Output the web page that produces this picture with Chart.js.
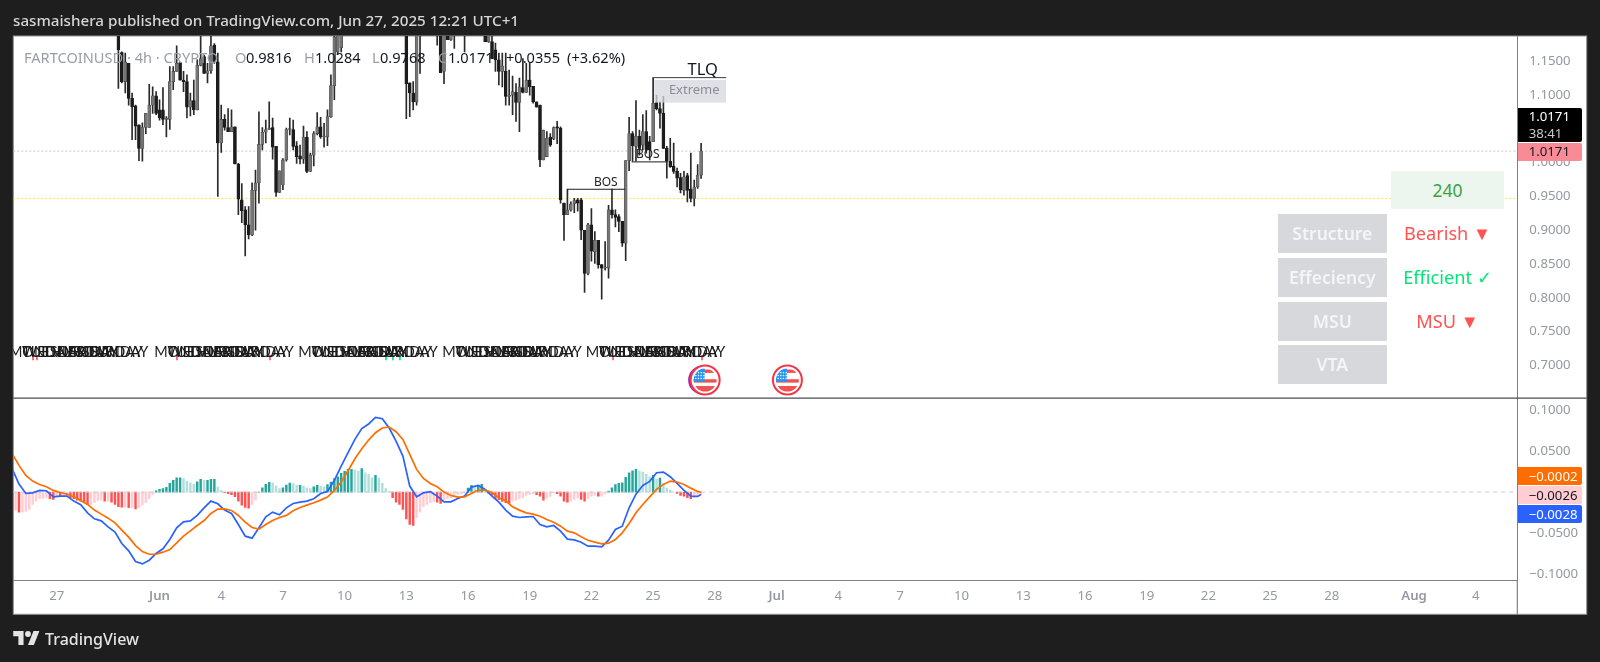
<!DOCTYPE html>
<html>
<head>
<meta charset="utf-8">
<title>FARTCOINUSD 4h</title>
<script src="https://cdn.jsdelivr.net/npm/chart.js@4/dist/chart.umd.min.js"></script>
<style>
  html, body { margin: 0; padding: 0; width: 1600px; height: 662px; overflow: hidden; background: #1e1e1e; font-family: "Noto Sans", sans-serif; }
  #chart { position: absolute; left: 0; top: 0; }
  .abs { position: absolute; white-space: nowrap; }
  #header { left: 13px; top: 10px; color: #d6d6d6; font-size: 15.2px; font-weight: 500; line-height: 21px; }
  #footer { left: 45px; top: 628px; color: #e4e4e4; font-size: 16px; font-weight: 500; line-height: 23px; }
  #logo { left: 13px; top: 631px; }
  .lg { top: 47px; font-size: 14.6px; line-height: 20px; color: #131722; }
  .lg.dim { color: #9a9da6; }
  .cell { position: absolute; left: 1278px; width: 108.7px; height: 38.7px; line-height: 38.7px; background: #d6d8db; color: #f4f5f6; text-align: center; font-size: 17.5px; font-weight: 600; }
  .val { position: absolute; left: 1391px; width: 113px; height: 38.7px; line-height: 38.7px; text-align: center; font-size: 18.2px; }
  .tag { position: absolute; left: 1517.7px; width: 64.3px; text-align: left; padding-left: 11px; box-sizing: border-box; font-size: 13.2px; border-radius: 0 2px 2px 0; }
</style>
</head>
<body>
<canvas id="chart" width="1600" height="662"></canvas>

<div id="header" class="abs">sasmaishera published on TradingView.com, Jun 27, 2025 12:21 UTC+1</div>

<div class="abs lg dim" style="left:24px">FARTCOINUSD · 4h · CRYPTO</div>
<div class="abs lg dim" style="left:235px">O</div><div class="abs lg" style="left:246px">0.9816</div>
<div class="abs lg dim" style="left:304px">H</div><div class="abs lg" style="left:315px">1.0284</div>
<div class="abs lg dim" style="left:372px">L</div><div class="abs lg" style="left:380px">0.9768</div>
<div class="abs lg dim" style="left:438px">C</div><div class="abs lg" style="left:448px">1.0171</div>
<div class="abs lg" style="left:506px">+0.0355</div>
<div class="abs lg" style="left:567px">(+3.62%)</div>

<div class="val" style="top:170.7px;height:38.6px;line-height:39px;background:#edf6ee;color:#3ba340;font-size:17.5px">240</div>
<div class="cell" style="top:214px">Structure</div>
<div class="cell" style="top:258px">Effeciency</div>
<div class="cell" style="top:302px">MSU</div>
<div class="cell" style="top:345.3px">VTA</div>
<div class="val" style="top:214px;color:#ff5252">Bearish ▼</div>
<div class="val" style="top:258px;color:#00e676">Efficient ✓</div>
<div class="val" style="top:302px;color:#ff5252">MSU ▼</div>

<div class="tag" style="top:108.3px;height:34px;background:#000;color:#fff;line-height:17px">1.0171<br><span style="color:#c8c8c8">38:41</span></div>
<div class="tag" style="top:143px;height:17.5px;line-height:17.5px;background:#f88b95;color:#131722">1.0171</div>
<div class="tag" style="top:466.7px;height:18.4px;line-height:18.4px;background:#ff6d00;color:#fff">−0.0002</div>
<div class="tag" style="top:486px;height:18px;line-height:18px;background:#ffcdd2;color:#131722">−0.0026</div>
<div class="tag" style="top:505px;height:18.4px;line-height:18.4px;background:#2962ff;color:#fff">−0.0028</div>

<svg id="logo" class="abs" width="27" height="14" viewBox="0 0 36 19" fill="#e4e4e4"><path d="M14 19H7V7H0V0h14v19zM28 19h-8l7.5-19h8L28 19z"/><circle cx="20" cy="4" r="4"/></svg>
<div id="footer" class="abs">TradingView</div>

<script>
/* ------------------------------------------------------------
   Data. Candles are 4h bars, bar 0 sits on
   May 30 00:00; the x axis counts days from May 27.
   ------------------------------------------------------------ */
const opens = [
    1.20,1.163,1.120,1.147,1.095,1.084,1.056,1.021,1.052,1.052,
    1.085,1.099,1.078,1.078,1.064,1.064,1.120,1.135,1.148,1.122,
    1.120,1.082,1.092,1.078,1.144,1.157,1.132,1.136,1.174,1.149,
    1.029,1.064,1.052,1.046,1.053,0.998,0.945,0.930,0.908,0.893,
    0.959,0.970,1.027,1.045,1.049,1.052,1.024,0.956,0.967,1.004,
    1.049,1.049,1.025,1.010,1.005,1.038,0.987,1.011,1.043,1.053,
    1.038,1.038,1.068,1.114,1.164,1.17,1.22,1.24,1.26,1.28,
    1.30,1.31,1.32,1.33,1.34,1.32,1.31,1.29,1.27,1.25,
    1.24,1.23,1.22,1.21,1.21,1.118,1.103,1.090,1.20,1.24,
    1.25,1.23,1.22,1.21,1.21,1.135,1.20,1.182,1.20,1.21,
    1.22,1.23,1.21,1.22,1.24,1.22,1.23,1.21,1.179,1.179,
    1.167,1.152,1.135,1.135,1.098,1.100,1.104,1.089,1.111,1.104,
    1.122,1.113,1.090,1.085,1.004,1.009,1.038,1.035,1.053,1.051,
    0.940,0.923,0.930,0.939,0.945,0.945,0.900,0.836,0.908,0.868,
    0.885,0.849,0.844,0.844,0.930,0.923,0.920,0.913,0.881,1.003,
    1.043,1.024,1.039,1.026,1.046,1.031,1.031,1.089,1.080,1.073,
    1.021,1.002,0.995,0.987,0.978,0.959,0.981,0.961,0.947,0.964,0.9816
];
const highs = [
    1.21,1.164,1.162,1.147,1.103,1.085,1.056,1.059,1.073,1.116,
    1.112,1.105,1.093,1.111,1.068,1.142,1.142,1.173,1.148,1.135,
    1.130,1.103,1.122,1.152,1.20,1.159,1.147,1.195,1.176,1.162,
    1.085,1.071,1.080,1.078,1.053,0.999,0.969,0.935,0.935,0.970,
    0.989,1.075,1.052,1.063,1.090,1.066,1.024,0.988,1.006,1.051,
    1.066,1.063,1.031,1.026,1.054,1.046,1.014,1.046,1.074,1.067,
    1.058,1.078,1.130,1.20,1.22,1.24,1.25,1.27,1.29,1.31,
    1.33,1.34,1.35,1.36,1.36,1.35,1.33,1.31,1.29,1.27,
    1.26,1.25,1.24,1.23,1.22,1.118,1.120,1.22,1.26,1.27,
    1.28,1.26,1.25,1.24,1.23,1.22,1.22,1.21,1.23,1.24,
    1.25,1.25,1.24,1.25,1.26,1.25,1.25,1.23,1.21,1.19,
    1.177,1.162,1.162,1.162,1.137,1.128,1.117,1.125,1.154,1.147,
    1.147,1.113,1.090,1.085,1.048,1.046,1.043,1.053,1.061,1.053,
    0.940,0.961,0.942,0.947,0.947,0.947,0.900,0.910,0.932,0.898,
    0.885,0.849,0.883,0.937,0.961,0.930,0.923,0.913,1.003,1.067,
    1.046,1.092,1.048,1.071,1.077,1.039,1.126,1.100,1.090,1.098,
    1.024,1.036,1.029,0.992,0.984,0.987,0.984,1.014,0.974,0.997,1.0284
];
const lows = [
    1.110,1.118,1.103,1.085,1.034,1.034,1.003,1.002,1.043,1.052,
    1.073,1.071,1.063,1.056,1.038,1.049,1.108,1.135,1.122,1.105,
    1.066,1.069,1.071,1.078,1.143,1.132,1.118,1.132,1.147,0.950,
    1.015,1.048,1.046,1.046,0.998,0.923,0.911,0.862,0.887,0.892,
    0.900,0.940,1.019,1.029,1.049,1.005,0.950,0.956,0.960,1.002,
    1.041,1.019,0.999,0.998,0.999,0.985,0.987,0.995,1.041,1.036,
    1.023,1.025,1.067,1.093,1.16,1.164,1.19,1.22,1.24,1.26,
    1.28,1.29,1.30,1.31,1.31,1.29,1.28,1.26,1.24,1.22,
    1.21,1.20,1.195,1.19,1.065,1.068,1.078,1.085,1.132,1.21,
    1.22,1.20,1.195,1.174,1.133,1.117,1.182,1.181,1.169,1.20,
    1.20,1.164,1.195,1.20,1.21,1.20,1.20,1.179,1.178,1.154,
    1.135,1.115,1.112,1.085,1.085,1.071,1.061,1.046,1.103,1.104,
    1.100,1.088,1.082,0.994,1.004,1.009,1.024,1.034,1.028,0.940,
    0.885,0.923,0.928,0.926,0.928,0.886,0.808,0.834,0.854,0.851,
    0.844,0.798,0.841,0.829,0.918,0.905,0.898,0.876,0.855,0.988,
    1.002,1.002,1.011,1.019,1.014,1.004,1.031,1.078,1.051,1.021,
    0.977,0.993,0.984,0.964,0.955,0.952,0.942,0.942,0.936,0.962,0.9768
];
const closes = [
    1.167,1.120,1.149,1.095,1.083,1.054,1.021,1.052,1.073,1.085,
    1.099,1.073,1.066,1.064,1.066,1.120,1.135,1.147,1.122,1.120,
    1.082,1.092,1.078,1.144,1.154,1.132,1.136,1.173,1.149,1.029,
    1.064,1.052,1.046,1.053,0.998,0.946,0.929,0.908,0.893,0.959,
    0.970,1.027,1.045,1.049,1.051,1.023,0.956,0.988,1.004,1.049,
    1.050,1.024,1.009,1.005,1.038,0.987,1.011,1.043,1.053,1.038,
    1.039,1.068,1.114,1.186,1.21,1.22,1.24,1.26,1.28,1.30,
    1.31,1.32,1.33,1.34,1.32,1.31,1.29,1.27,1.25,1.24,
    1.23,1.22,1.21,1.21,1.117,1.103,1.090,1.20,1.24,1.25,
    1.23,1.22,1.21,1.20,1.133,1.20,1.182,1.20,1.21,1.22,
    1.23,1.21,1.22,1.24,1.22,1.23,1.21,1.179,1.19,1.154,
    1.152,1.135,1.143,1.098,1.100,1.105,1.089,1.112,1.104,1.122,
    1.112,1.090,1.082,1.004,1.048,1.036,1.026,1.052,1.051,0.945,
    0.923,0.930,0.939,0.944,0.940,0.900,0.836,0.908,0.869,0.885,
    0.849,0.844,0.845,0.930,0.923,0.919,0.913,0.881,1.003,1.043,
    1.025,1.039,1.021,1.046,1.019,1.019,1.088,1.080,1.073,1.021,
    1.002,0.994,0.987,0.977,0.960,0.979,0.959,0.947,0.964,0.9816,1.0171
];

// MACD histogram, one value per bar from bar -30 to bar 170
const histValues = [
    -.0220,-.0244,-.0244,-.0236,-.0212,-.0151,-.0110,-.0081,-.0081,-.0069,
    -.0081,-.0090,-.0049,-.0057,-.0057,-.0049,-.0069,-.0081,-.0098,-.0110,
    -.0122,-.0151,-.0151,-.0130,-.0102,-.0098,-.0110,-.0110,-.0122,-.0151,
    -.0179,-.0183,-.0183,-.0191,-.0191,-.0204,-.0191,-.0159,-.0130,-.0081,
    -.0028,.0016,.0033,.0041,.0057,.0106,.0142,.0175,.0175,.0163,
    .0134,.0114,.0094,.0126,.0155,.0142,.0142,.0155,.0155,.0061,
    .0020,-.0008,-.0020,-.0033,-.0057,-.0110,-.0159,-.0187,-.0195,-.0151,
    -.0098,0,.0053,.0094,.0118,.0114,.0073,.0041,.0053,.0085,
    .0110,.0102,.0081,.0081,.0073,.0053,.0041,.0065,.0081,.0073,
    .0065,.0090,.0122,.0163,.0187,.0228,.0252,.0277,.0277,.0269,
    .0256,.0285,.0236,.0216,.0175,.0204,.0171,.0106,.0041,.0008,
    -.0069,-.0122,-.0151,-.0212,-.0326,-.0395,-.0407,-.0313,-.0244,-.0179,
    -.0151,-.0130,-.0114,-.0122,-.0138,-.0098,-.0081,-.0069,-.0033,-.0028,
    -.0024,-.0008,.0049,.0081,.0065,.0073,.0094,.0033,-.0016,-.0041,
    -.0081,-.0094,-.0114,-.0130,-.0138,-.0110,-.0098,-.0085,-.0069,-.0041,
    -.0028,-.0024,-.0033,-.0049,-.0098,-.0077,-.0053,-.0012,-.0020,-.0049,
    -.0110,-.0122,-.0110,-.0090,-.0073,-.0090,-.0110,-.0081,-.0049,-.0041,
    -.0049,-.0049,-.0024,.0012,.0053,.0090,.0106,.0114,.0179,.0236,
    .0260,.0277,.0256,.0244,.0216,.0187,.0204,.0155,.0171,.0106,
    .0049,.0024,0,-.0016,-.0041,-.0049,-.0069,-.0081,-.0069,-.0049,-.0026
];

// MACD and signal lines, read at every second bar from bar -31, last value at bar 170
const macdValues = [
    .0284,.0097,-.0017,-.0009,.0020,.0016,-.0058,-.0049,-.0049,-.0110,
    -.0155,-.0253,-.0326,-.0351,-.0424,-.0489,-.0627,-.0717,-.0847,-.0876,
    -.0831,-.0749,-.0692,-.0579,-.0436,-.0363,-.0351,-.0285,-.0192,-.0110,
    -.0143,-.0220,-.0261,-.0395,-.0538,-.0562,-.0436,-.0302,-.0245,-.0277,
    -.0192,-.0139,-.0123,-.0110,-.0082,-.0017,.0008,.0142,.0317,.0480,
    .0643,.0773,.0830,.0911,.0895,.0781,.0622,.0439,.0073,-.0058,
    -.0009,.0004,-.0049,-.0119,-.0119,-.0078,-.0049,.0061,.0081,.0032,
    -.0049,-.0123,-.0220,-.0294,-.0310,-.0302,-.0298,-.0395,-.0424,-.0408,
    -.0477,-.0574,-.0583,-.0611,-.0660,-.0660,-.0668,-.0587,-.0456,-.0416,
    -.0192,-.0025,.0081,.0130,.0236,.0244,.0187,.0105,.0020,-.0049,-.0053,-.0028
];
const signalValues = [
    .0468,.0325,.0203,.0134,.0093,.0065,.0020,-.0005,-.0025,-.0058,
    -.0102,-.0151,-.0220,-.0269,-.0318,-.0375,-.0465,-.0550,-.0652,-.0725,
    -.0758,-.0758,-.0733,-.0701,-.0619,-.0538,-.0473,-.0408,-.0347,-.0261,
    -.0208,-.0204,-.0224,-.0285,-.0367,-.0432,-.0452,-.0395,-.0347,-.0310,
    -.0285,-.0228,-.0188,-.0159,-.0131,-.0098,-.0062,.0020,.0122,.0260,
    .0406,.0529,.0634,.0724,.0781,.0793,.0736,.0642,.0459,.0276,
    .0166,.0105,.0065,0,-.0041,-.0062,-.0058,-.0017,.0024,.0024,
    -.0005,-.0070,-.0106,-.0180,-.0220,-.0253,-.0269,-.0294,-.0334,-.0367,
    -.0416,-.0477,-.0497,-.0546,-.0587,-.0611,-.0631,-.0623,-.0579,-.0497,
    -.0383,-.0253,-.0151,-.0058,.0032,.0093,.0134,.0122,.0093,.0048,.0008,-.0002
];

// Axes
const priceTicks = [1.15, 1.10, 1.05, 1.00, 0.95, 0.90, 0.85, 0.80, 0.75, 0.70];
const macdTicks = [0.10, 0.05, -0.05, -0.10];
const timeTickDays = [0, 5, 8, 11, 14, 17, 20, 23, 26, 29, 32, 35, 38, 41, 44, 47, 50, 53, 56, 59, 62, 66, 69];
const timeTickLabels = ['27', 'Jun', '4', '7', '10', '13', '16', '19', '22', '25', '28', 'Jul', '4', '7', '10', '13', '16', '19', '22', '25', '28', 'Aug', '4'];

// Horizontal levels
const lastPrice = 1.0171;
const keyLevel = 0.947;

// Drawn objects on the price pane
const bosStartDays = [24.85, 27.96];
const bosEndDays = [27.63, 29.69];
const bosPrices = [0.9606, 1.0011];
const bosLabelDays = [26.7, 28.74];
const tlqStartDay = 29.01;
const tlqEndDay = 32.55;
const tlqPrice = 1.1258;
const extremeTop = 1.1223;
const extremeBottom = 1.0888;

// Weekday labels of the session indicator and its small ticks
const weekdayNames = ['MONDAY', 'TUESDAY', 'WEDNESDAY', 'THURSDAY', 'FRIDAY', 'SATURDAY', 'SUNDAY'];
const weekStartDays = [-0.75, 6.32, 13.32, 20.32, 27.3];
const weekdayLabelPrice = 0.720;
const redTickDays = [-1.15, -0.96, 5.85, 10.37, 27.05, 31.38];
const greenTickDays = [16.01, 16.35, 16.69];
const sessionTickRange = [0.708, 0.715];

// Economic event icons
const eventDays = [31.53, 35.53];
const eventPrice = 0.6783;

/* ------------------------------------------------------------
   Helpers
   ------------------------------------------------------------ */
const FONT = '"Noto Sans", sans-serif';
const AXIS_TEXT = '#9598a1';
const AXIS_LINE = '#7d8087';
const X_MIN = -2.11;
const X_MAX = 71.02;

const barDay = (bar) => 3 + bar / 6;
const minusSign = (text) => text.replace('-', '−');
const horizontal = (y) => [{ x: X_MIN, y }, { x: X_MAX, y }];

const candleWicks = highs.map((h, i) => ({ x: barDay(i), y: [lows[i], h] }));
const candleBodies = opens.map((o, i) => ({ x: barDay(i), y: [o, closes[i]] }));
const candleFill = opens.map((o, i) => (closes[i] >= o ? '#767676' : '#1c1c1c'));
const candleEdge = opens.map((o, i) => (closes[i] >= o ? '#4a4a4a' : '#1c1c1c'));

const histPoints = histValues.map((v, k) => ({ x: barDay(k - 30), y: v }));
const histColors = histValues.map((v, k) => {
    const prev = k > 0 ? histValues[k - 1] : v;
    if (v >= 0) return v >= prev ? '#26a69a' : '#b2dfdb';
    return v < prev ? '#ff5252' : '#ffcdd2';
});

// Lines are sampled on odd bars, the final point is the live bar
const lineBar = (k, len) => (k === len - 1 ? 170 : -31 + 2 * k);
const linePoints = (values) => values.map((v, k) => ({ x: barDay(lineBar(k, values.length)), y: v }));

/* ------------------------------------------------------------
   Plugin: pane frame, drawn objects, weekday labels, event icons
   ------------------------------------------------------------ */
function drawFlag(ctx, cx, cy) {
    const r = 14.5;
    ctx.save();
    ctx.beginPath();
    ctx.arc(cx - 2.5, cy, r, 0, Math.PI * 2);
    ctx.fillStyle = '#9c27b0';
    ctx.fill();
    ctx.restore();
    drawFlagFace(ctx, cx, cy, r);
}

function drawFlagFace(ctx, cx, cy, r) {
    ctx.save();
    ctx.beginPath();
    ctx.arc(cx, cy, r, 0, Math.PI * 2);
    ctx.fillStyle = '#fff';
    ctx.fill();
    ctx.lineWidth = 2;
    ctx.strokeStyle = '#f23645';
    ctx.stroke();
    ctx.beginPath();
    ctx.arc(cx, cy, r - 3, 0, Math.PI * 2);
    ctx.clip();
    ctx.fillStyle = '#ef5350';
    ctx.fillRect(cx - r, cy - r + 4, r * 2, 3.4);
    ctx.fillRect(cx - r, cy - 0.8, r * 2, 3.4);
    ctx.fillRect(cx - r, cy + 6, r * 2, 7);
    ctx.fillStyle = '#2196f3';
    ctx.fillRect(cx - r, cy - r, r - 0.5, r + 1.5);
    ctx.fillStyle = '#fff';
    for (let a = 0; a < 4; a++) {
        for (let b = 0; b < 3; b++) {
            ctx.fillRect(cx - 10 + a * 2.7, cy - 8 + b * 2.9, 1.3, 1.3);
        }
    }
    ctx.restore();
}

const paneFrame = {
    id: 'paneFrame',
    beforeDraw(chart) {
        const { ctx } = chart;
        ctx.save();
        ctx.fillStyle = '#fff';
        ctx.fillRect(13.3, 36, 1573.4, 578.3);
        ctx.strokeStyle = '#8f9196';
        ctx.lineWidth = 1;
        ctx.strokeRect(13.3, 36, 1573.4, 578.3);
        ctx.restore();
    },
    afterDraw(chart) {
        const { ctx, scales } = chart;
        const px = (day) => scales.x.getPixelForValue(day);
        const py = (price) => scales.y.getPixelForValue(price);
        ctx.save();

        // Extreme box and TLQ line
        ctx.fillStyle = 'rgba(212, 215, 222, 0.75)';
        ctx.fillRect(px(tlqStartDay) + 1, py(extremeTop), px(tlqEndDay) - px(tlqStartDay) - 1, py(extremeBottom) - py(extremeTop));
        ctx.strokeStyle = '#3c3c3c';
        ctx.lineWidth = 1;
        ctx.beginPath();
        ctx.moveTo(px(tlqStartDay), py(tlqPrice));
        ctx.lineTo(px(tlqEndDay), py(tlqPrice));
        ctx.stroke();
        ctx.textAlign = 'center';
        ctx.textBaseline = 'middle';
        ctx.fillStyle = '#131722';
        ctx.font = '16.5px ' + FONT;
        ctx.fillText('TLQ', px(31.41), py(tlqPrice) - 7.5);
        ctx.fillStyle = '#8b8e96';
        ctx.font = '13px ' + FONT;
        ctx.fillText('Extreme', px(31.0), py((extremeTop + extremeBottom) / 2) - 1);

        // Break of structure marks
        bosPrices.forEach((price, i) => {
            ctx.strokeStyle = '#1c1c1c';
            ctx.beginPath();
            ctx.moveTo(px(bosStartDays[i]), py(price));
            ctx.lineTo(px(bosEndDays[i]), py(price));
            ctx.stroke();
            ctx.fillStyle = '#222';
            ctx.font = '12px ' + FONT;
            ctx.fillText('BOS', px(bosLabelDays[i]), py(price) - 7);
        });

        // Overlapping weekday labels
        ctx.fillStyle = '#1c1c1c';
        ctx.font = '14.5px Lato, ' + FONT;
        weekStartDays.forEach((start) => {
            weekdayNames.forEach((name, k) => {
                const x = px(start + k * 0.632);
                ctx.save();
                ctx.beginPath();
                ctx.rect(13.3, 36, 1504, 362);
                ctx.clip();
                ctx.fillText(name, x, py(weekdayLabelPrice));
                ctx.restore();
            });
        });

        // Event icons
        drawFlag(ctx, px(eventDays[0]), py(eventPrice));
        drawFlagFace(ctx, px(eventDays[1]), py(eventPrice), 14.5);

        // Divider between panes
        ctx.strokeStyle = '#4a4c52';
        ctx.lineWidth = 1.2;
        ctx.beginPath();
        ctx.moveTo(13.3, scales.y.bottom);
        ctx.lineTo(1586.7, scales.y.bottom);
        ctx.stroke();
        ctx.strokeStyle = AXIS_LINE;
        ctx.beginPath();
        ctx.moveTo(scales.y.left, scales.x.top);
        ctx.lineTo(scales.y.left, 614.3);
        ctx.stroke();
        ctx.restore();
    }
};

/* ------------------------------------------------------------
   Chart
   ------------------------------------------------------------ */
new Chart(document.getElementById('chart'), {
    data: {
        datasets: [
            { type: 'line', xAxisID: 'x', yAxisID: 'm', data: linePoints(signalValues), borderColor: '#ff6d00', borderWidth: 1.7, pointRadius: 0 },
            { type: 'line', xAxisID: 'x', yAxisID: 'm', data: linePoints(macdValues), borderColor: '#2962ff', borderWidth: 1.7, pointRadius: 0 },
            { type: 'line', xAxisID: 'x', yAxisID: 'm', data: horizontal(0), borderColor: '#c9cbd0', borderWidth: 1, borderDash: [4, 4], pointRadius: 0 },
            { type: 'bar', xAxisID: 'x', yAxisID: 'm', data: histPoints, backgroundColor: histColors, barThickness: 1.8, grouped: false },
            { type: 'bar', xAxisID: 'x', yAxisID: 'y', data: candleBodies, backgroundColor: candleFill, borderColor: candleEdge, borderWidth: 0.6, borderSkipped: false, barThickness: 3, minBarLength: 1, grouped: false },
            { type: 'bar', xAxisID: 'x', yAxisID: 'y', data: candleWicks, backgroundColor: '#2a2a2a', barThickness: 1, grouped: false },
            { type: 'bar', xAxisID: 'x', yAxisID: 'y', data: redTickDays.map((d) => ({ x: d, y: sessionTickRange })), backgroundColor: '#f7525f', barThickness: 1, grouped: false },
            { type: 'bar', xAxisID: 'x', yAxisID: 'y', data: greenTickDays.map((d) => ({ x: d, y: sessionTickRange })), backgroundColor: '#00e676', barThickness: 1, grouped: false },
            { type: 'line', xAxisID: 'x', yAxisID: 'y', data: horizontal(lastPrice), borderColor: '#c8cacf', borderWidth: 1, borderDash: [2, 2], pointRadius: 0 },
            { type: 'line', xAxisID: 'x', yAxisID: 'y', data: horizontal(keyLevel), borderColor: '#ffe83b', borderWidth: 1, borderDash: [2, 2], pointRadius: 0 }
        ]
    },
    options: {
        responsive: false,
        animation: false,
        devicePixelRatio: 1,
        layout: { padding: { left: 13.3, top: 36, right: 13.3, bottom: 47.7 } },
        plugins: { legend: { display: false }, tooltip: { enabled: false } },
        scales: {
            x: {
                type: 'linear',
                offset: false,
                min: X_MIN,
                max: X_MAX,
                grid: { display: false, drawTicks: false },
                border: { display: true, color: AXIS_LINE },
                afterBuildTicks: (s) => { s.ticks = timeTickDays.map((value) => ({ value })); },
                afterFit: (s) => { s.height = 33.9; },
                ticks: {
                    autoSkip: false,
                    maxRotation: 0,
                    padding: 8,
                    color: AXIS_TEXT,
                    font: (c) => ({ family: FONT, size: 13.2, weight: /\D/.test(timeTickLabels[timeTickDays.indexOf(c.tick && c.tick.value)] || '') ? '600' : '400' }),
                    callback: (v) => timeTickLabels[timeTickDays.indexOf(v)]
                }
            },
            y: {
                type: 'linear',
                position: 'right',
                stack: 'panes',
                stackWeight: 362,
                min: 0.6516,
                max: 1.1874,
                grid: { display: false, drawTicks: false },
                border: { display: true, color: AXIS_LINE },
                afterBuildTicks: (s) => { s.ticks = priceTicks.map((value) => ({ value })); },
                afterFit: (s) => { s.width = 69.4; },
                ticks: { autoSkip: false, padding: 12, color: AXIS_TEXT, font: { family: FONT, size: 13.2 }, callback: (v) => v.toFixed(4) }
            },
            m: {
                type: 'linear',
                position: 'right',
                stack: 'panes',
                stackWeight: 182.3,
                min: -0.1077,
                max: 0.1146,
                grid: { display: false, drawTicks: false },
                border: { display: true, color: AXIS_LINE },
                afterBuildTicks: (s) => { s.ticks = macdTicks.map((value) => ({ value })); },
                afterFit: (s) => { s.width = 69.4; },
                ticks: { autoSkip: false, padding: 12, color: AXIS_TEXT, font: { family: FONT, size: 13.2 }, callback: (v) => minusSign(v.toFixed(4)) }
            }
        }
    },
    plugins: [paneFrame]
});
</script>
</body>
</html>
